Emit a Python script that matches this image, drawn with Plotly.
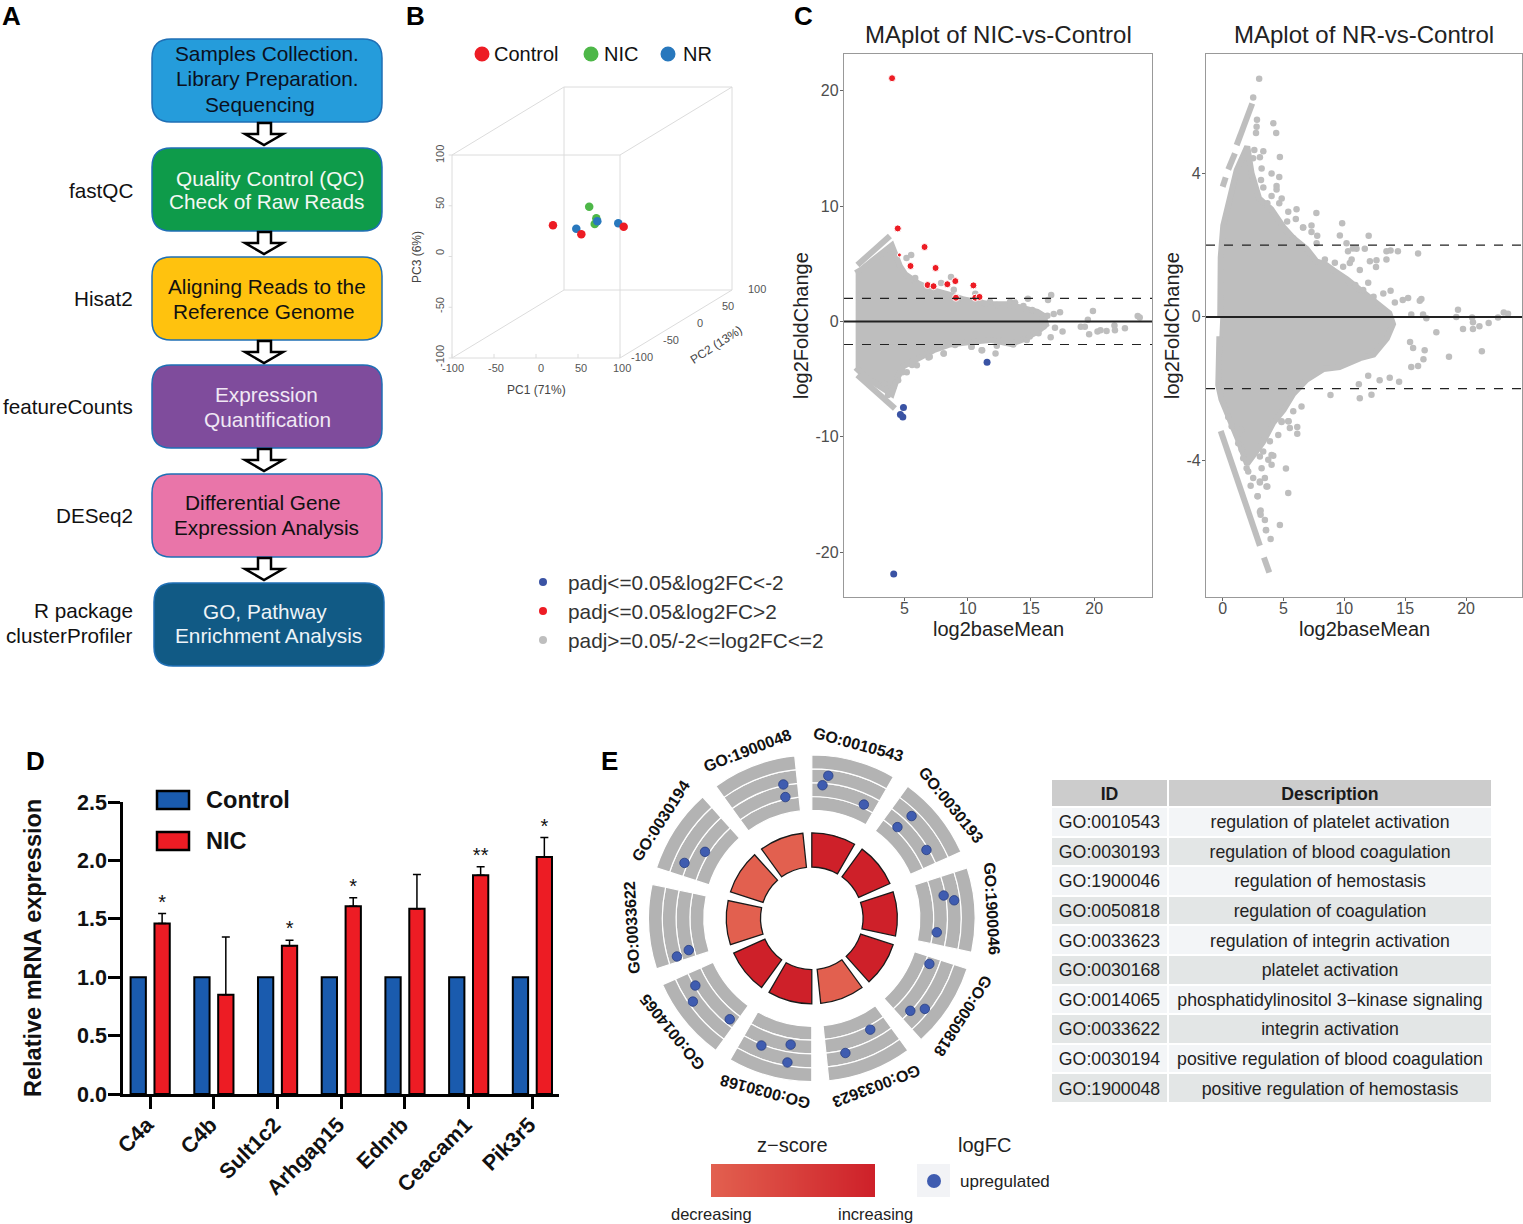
import math
import plotly.graph_objects as go

W, H = 1523, 1224
FONT = "Liberation Sans"

# ---------- Panel A text ----------
flow_boxes = [
    ("#259CDB", 152, 39, 382, 122), ("#0E9B4A", 152, 148, 382, 231), ("#FFC20E", 152, 257, 382, 340),
    ("#7F4C9C", 152, 365, 382, 448), ("#E975A9", 152, 474, 382, 557), ("#115A85", 154, 583, 384, 666),
]
flow_lines = [
    ("Samples Collection.", 267, 54, "#0b1020"), ("Library Preparation.", 267, 79, "#0b1020"), ("Sequencing", 260, 104, "#0b1020"),
    ("Quality Control (QC)", 270, 178, "#f4f8f4"), ("Check of Raw Reads", 266, 202, "#f4f8f4"),
    ("Aligning Reads to the", 267, 286, "#111111"), ("Reference Genome", 264, 311, "#111111"),
    ("Expression", 266, 395, "#f0e8f4"), ("Quantification", 267, 419, "#f0e8f4"),
    ("Differential Gene", 263, 502, "#111111"), ("Expression Analysis", 266, 527, "#111111"),
    ("GO, Pathway", 265, 611, "#eef4f8"), ("Enrichment Analysis", 268, 635, "#eef4f8"),
]
arrow_tops = [123, 232, 341, 449, 558]
tool_labels = [("fastQC", 190), ("Hisat2", 298), ("featureCounts", 407), ("DESeq2", 515), ("R package", 610), ("clusterProfiler", 635)]

# ---------- Panel B data ----------
pca_groups = ["Control", "NIC", "NR"]
pc1_control, pc2_control, pc3_control = [-39.8, 7.3, 77.7], [-10, -30, -60], [0.6, -1.6, 16]
pc1_nic, pc2_nic, pc3_nic = [10, 18.5, 19.9], [-20, -20, -25], [22.3, 10.8, 6.9]
pc1_nr, pc2_nr, pc3_nr = [1.3, 23, 64.6], [-30, -25, -50], [3.9, 9.6, 16]
pca_ticks = [-100, -50, 0, 50, 100]

# ---------- Panel C data ----------
nic_env_x = [1.14, 1.6, 2.5, 3.2, 4.0, 4.64, 5.05, 6.1, 7.3, 8.6, 9.7, 10.7, 11.8, 13.1, 14.2, 15.5, 16, 16.2, 15.5, 14.4, 13.4, 11.8, 10.5, 8.6, 7.3, 6, 4.9, 4.4, 4.0, 3, 2, 1.14]
nic_env_y = [4.2, 4.5, 5.3, 5.9, 6.6, 4.8, 4.1, 3.3, 2.7, 2.3, 1.9, 1.7, 1.5, 1.5, 1.2, 0.85, 0.5, -0.27, -0.9, -1.55, -1.95, -1.6, -1.75, -2.0, -2.5, -3.3, -3.9, -5.0, -6.3, -5.6, -4.9, -4.0]
nic_streak_up_x, nic_streak_up_y = [1.28, 3.85], [4.9, 7.42]
nic_streak_dn_x, nic_streak_dn_y = [1.28, 4.25], [-4.64, -7.54]
nic_grey_x = [16.6, 16.35, 14.76, 19.9, 17.3, 16.8, 16.3, 23.44, 23.6, 19.5, 18.94, 19.26, 19.6, 20.26, 20.5, 20.98, 21.6, 21.64, 22.43, 17.5, 16.9, 16.56, 11.14, 12.2, 8.9, 8.68, 7.9, 10.6, 5.53, 5.16, 5.85, 8.1, 6.9, 5.98, 5.18, 4.5, 10.3]
nic_grey_y = [2.3, 1.86, 1.96, 0.9, 0.8, 0.65, 0.5, 0.48, 0.34, 0.14, -0.45, -0.45, -1.1, -0.86, -0.76, -0.82, -0.34, -0.76, -0.58, -0.86, -0.55, -1.37, -2.5, -2.78, 2.75, 3.85, 3.33, 2.4, 5.77, 5.5, 3.78, -2.78, -3.13, -3.8, -4.4, -5.1, -2.2]
nic_edge_x = [11.76, 12.3, 13.35, 13.75, 14.4, 15.1, 15.9, 16.0, 15.6, 14.67, 14.9, 13.6, 12.8, 12.3, 11.1, 10.3, 9.0, 8.1, 7.0, 5.6, 4.85, 3.7, 4.15, 3.4]
nic_edge_y = [1.72, 1.43, 1.72, 1.64, 1.34, 0.99, 0.13, -0.44, -1.03, -1.6, -1.3, -2.0, -1.6, -2.1, -2.5, -2.2, -2.05, -2.78, -3.05, -3.78, -4.4, -6.38, -5.65, -5.37]
nic_up_x = [4.02, 4.47, 4.6, 6.59, 5.48, 7.46, 6.83, 7.3, 8.39, 9.02, 10.45, 9.07, 10.6, 10.93]
nic_up_y = [21.1, 8.07, 5.77, 6.46, 4.81, 4.64, 3.16, 3.06, 3.23, 3.5, 3.13, 2.06, 2.06, 2.13]
nic_dn_x = [11.53, 4.92, 4.68, 4.87, 4.15]
nic_dn_y = [-3.54, -7.46, -8.08, -8.28, -21.9]

nr_env_x = [-0.2, -0.16, 0.05, 0.47, 1.15, 2.02, 2.38, 3.0, 4.0, 4.3, 5, 5.8, 6.9, 7.7, 8.5, 9.1, 10.2, 11.5, 12.6, 13.7, 14, 13.5, 12.4, 11.3, 9.6, 8.3, 6.9, 5.8, 5.0, 4.16, 3.3, 2.5, 2.0, 1.3, 0.46, -0.1, -0.36, -0.27]
nr_env_y = [0, 1.66, 2.55, 3.2, 4.09, 4.75, 4.0, 3.3, 3.0, 2.85, 2.5, 2.2, 1.9, 1.55, 1.45, 1.3, 1.05, 0.7, 0.4, 0.1, -0.2, -0.6, -1.05, -1.15, -1.4, -1.45, -1.75, -2.15, -2.6, -2.95, -3.5, -3.9, -4.1, -3.45, -2.75, -2.3, -1.9, -0.54]
nr_streak_up_x, nr_streak_up_y = [0, 0.25], [3.63, 3.89]
nr_streak_up2_x, nr_streak_up2_y = [0.46, 1.01], [4.11, 4.56]
nr_streak_up3_x, nr_streak_up3_y = [1.15, 2.43], [4.79, 5.95]
nr_streak_dn_x, nr_streak_dn_y = [-0.16, 3.06], [-3.18, -6.38]
nr_streak_dn2_x, nr_streak_dn2_y = [3.39, 3.83], [-6.71, -7.13]
nr_grey_x = [3.0, 2.51, 2.82, 2.79, 2.74, 4.16, 4.4, 4.7, 3.34, 4.02, 4.65, 4.02, 4.43, 7.7, 6.07, 6.6, 7.3, 9.82, 9.63, 12, 10.18, 10.3, 11, 11.68, 10.6, 13.46, 13.8, 14.4, 16.06, 12.1, 12.64, 12.6, 13.46, 11.27, 11.96, 13.2, 13.8, 14.15, 14.8, 15.24, 16.2, 16.33, 16.47, 16.74, 15.5, 17.56, 19.34, 19.2, 20.5, 20.57, 19.75, 20.57, 21.1, 21.86, 22.63, 23.1, 23.45, 21.3, 18.6, 16.6, 16.5, 15.4, 15.65, 15.5, 16.06, 14.5, 13.73, 12.9, 11.96, 12.23, 11.27, 11.19, 8.86, 6.48, 5.8, 6.13, 5.39, 4.84, 5.2, 5.39, 4.7, 3.94, 3.47, 3.56, 3.06, 2.87, 3.6, 3.06, 4.02]
nr_grey_y = [6.64, 6.12, 5.5, 5.3, 5.13, 5.4, 5.13, 4.46, 4.62, 4.0, 3.9, 3.37, 3.65, 2.9, 3.0, 2.49, 2.55, 2.61, 2.27, 2.26, 2.05, 1.83, 1.9, 1.9, 1.6, 1.83, 1.85, 1.83, 1.77, 1.55, 1.58, 1.39, 1.6, 1.31, 0.95, 0.65, 0.73, 0.4, 0.47, 0.53, 0.45, 0.5, 0.07, -0.04, 0.07, -0.43, 0.2, 0, -0.02, -0.15, -0.34, -0.34, -0.26, -0.17, -0.02, 0.12, 0.09, -0.96, -1.11, -0.93, -1.18, -0.7, -0.87, -1.4, -1.37, -1.81, -1.7, -1.77, -1.64, -2.17, -2.27, -1.88, -2.18, -2.5, -2.63, -3.07, -2.91, -2.93, -4.23, -4.91, -5.8, -6.19, -5.66, -5.94, -5.44, -5.0, -4.73, -4.62, -3.85]
nr_edge_x = [0.46, 0.74, 1.56, 1.28, 1.56, 1.69, 1.97, 2.1, 2.51, 2.3, 3.06, 3.47, 3.67, 3.2, 4.02, 3.75, 4.16, 3.33, 3.06, 3.88, 4.57, 2.87, 6.13, 5.52, 5.42, 4.84, 3.12, 3.12, 3.56, 2.6, 2.5, 3.06, 3.2, 3.15, 3.34, 4.43, 4.85, 4.65, 3.67, 5.39, 6.01, 5.3, 6.62, 7.3, 7.77, 5.8, 7.72, 8.4, 9.22, 9.9, 10.45, 10.7, 10.45, 11.55, 12.4, 10.9]
nr_edge_y = [-2.79, -3.05, -3.15, -3.52, -3.7, -3.94, -4.22, -4.31, -4.49, -4.71, -4.59, -4.49, -4.73, -4.22, -4.12, -3.98, -3.87, -3.75, -3.89, -3.47, -3.29, -5.0, -3.26, -3.1, -2.91, -2.91, -5.4, -5.52, -5.95, 4.65, 4.42, 4.45, 4.14, 3.82, 3.61, 3.55, 3.3, 3.17, 3.17, 2.93, 2.73, 2.66, 2.49, 2.37, 2.26, 2.19, 2.05, 1.6, 1.51, 1.4, 1.5, 1.91, 0.94, 0.75, 0.56, 0.89]
ma_legend = [("padj<=0.05&log2FC<-2", "#3A53A4", 582), ("padj<=0.05&log2FC>2", "#ED1C24", 611), ("padj>=0.05/-2<=log2FC<=2", "#BEBEBE", 640)]

# ---------- Panel D data ----------
genes = ["C4a", "C4b", "Sult1c2", "Arhgap15", "Ednrb", "Ceacam1", "Pik3r5"]
control_vals = [1, 1, 1, 1, 1, 1, 1]
nic_vals = [1.46, 0.85, 1.27, 1.607, 1.587, 1.873, 2.03]
nic_err = [0.085, 0.495, 0.046, 0.073, 0.293, 0.072, 0.167]
stars = ["*", "", "*", "*", "", "**", "*"]
star_y = [1.63, 0, 1.40, 1.76, 0, 2.03, 2.28]

# ---------- Panel E data ----------
go_ids = ["GO:0010543", "GO:0030193", "GO:1900046", "GO:0050818", "GO:0033623", "GO:0030168", "GO:0014065", "GO:0033622", "GO:0030194", "GO:1900048"]
go_desc = ["regulation of platelet activation", "regulation of blood coagulation", "regulation of hemostasis", "regulation of coagulation",
           "regulation of integrin activation", "platelet activation", "phosphatidylinositol 3\u2212kinase signaling", "integrin activation",
           "positive regulation of blood coagulation", "positive regulation of hemostasis"]
zscore = [1, 1, 1, 1, 0, 1, 1, 0, 0, 0]
sector_theta = [15, 51, 87, 123, 159, 195, 231, 267, 303, 339]
dot_theta = [6.6, 4.6, 24.6, 44.3, 43.2, 59.2, 80.2, 82.8, 96.4, 111.2, 133.2, 128.7, 152.3, 166, 189.5, 189.6, 201.6, 219.1, 235, 240, 255.5, 254.2, 301.9, 293.5, 347.7, 348]
dot_radius = [428, 398, 373, 426, 373, 398, 399, 428, 375, 376, 403, 432, 375, 414, 382, 436, 408, 388, 433, 401, 379, 418, 375, 414, 370, 408]
ring_bases = [322, 363.25, 404.5, 445.75]
zscale_levels = [0, 0.09, 0.18, 0.27, 0.36, 0.45, 0.55, 0.64, 0.73, 0.82, 0.91, 1]
ZSCALE = [[0, "#E2604F"], [1, "#CE2029"]]


def px(x):
    return x / W


def py(y):
    return 1 - y / H


def dom_x(a, b):
    return [px(a), px(b)]


def dom_y(top, bottom):
    return [py(bottom), py(top)]


anns, shapes = [], []


def ann(text, x, y, size, color="#111111", bold=False, anchor="center", angle=0):
    t = f"<b>{text}</b>" if bold else text
    anns.append(dict(text=t, x=px(x), y=py(y), xref="paper", yref="paper", showarrow=False, xanchor=anchor, yanchor="middle",
                     textangle=angle, font=dict(family=FONT, size=size, color=color)))


def rrect(x0, y0, x1, y1, r):
    X0, X1, Y0, Y1 = px(x0), px(x1), py(y0), py(y1)
    a, b = px(r), r / H
    return (f"M {X0+a},{Y0} L {X1-a},{Y0} Q {X1},{Y0} {X1},{Y0-b} L {X1},{Y1+b} Q {X1},{Y1} {X1-a},{Y1} "
            f"L {X0+a},{Y1} Q {X0},{Y1} {X0},{Y1+b} L {X0},{Y0-b} Q {X0},{Y0} {X0+a},{Y0} Z")


def circle(cx, cy, d, color):
    shapes.append(dict(type="circle", xref="paper", yref="paper", x0=px(cx - d / 2), x1=px(cx + d / 2), y0=py(cy + d / 2), y1=py(cy - d / 2),
                       fillcolor=color, line=dict(width=0)))


def rect(x0, y0, x1, y1, fill, line=None, lw=0):
    shapes.append(dict(type="rect", xref="paper", yref="paper", x0=px(x0), x1=px(x1), y0=py(y1), y1=py(y0), fillcolor=fill,
                       line=dict(width=lw, color=line or fill)))


fig = go.Figure()

# Panel letters
for letter, x, y in [("A", 12, 16), ("B", 415, 16), ("C", 803, 16), ("D", 35, 761), ("E", 609, 761)]:
    ann(letter, x, y, 26, "#000000", True)

# Panel A
for color, x0, y0, x1, y1 in flow_boxes:
    shapes.append(dict(type="path", xref="paper", yref="paper", path=rrect(x0, y0, x1, y1, 19), fillcolor=color, line=dict(color="#1F6FB5", width=1.5)))
for text, x, y, c in flow_lines:
    ann(text, x, y, 20.8, c)
for t in arrow_tops:
    pts = [(258, t), (271, t), (271, t + 11), (283, t + 11), (264, t + 22), (245, t + 11), (258, t + 11)]
    path = "M " + " L ".join(f"{px(a)},{py(b)}" for a, b in pts) + " Z"
    shapes.append(dict(type="path", xref="paper", yref="paper", path=path, fillcolor="#ffffff", line=dict(color="#000000", width=2.5)))
for text, y in tool_labels:
    ann(text, 135, y, 20.7, "#111111", anchor="right")

# Panel B: oblique projection of the three components
SX, SY = 0.84, 1.015
KU, KV = 0.56 / SX, 0.34 / SY
B_L, B_R, B_T, B_B = 440, 745, 80, 365


def proj_u(p1, p2):
    return [a + KU * (b + 100) for a, b in zip(p1, p2)]


def proj_v(p3, p2):
    return [a + KV * (b + 100) for a, b in zip(p3, p2)]


edges = [((-100, -100, -100), (100, -100, -100)), ((100, -100, -100), (100, -100, 100)), ((100, -100, 100), (-100, -100, 100)), ((-100, -100, 100), (-100, -100, -100)),
         ((-100, 100, -100), (100, 100, -100)), ((100, 100, -100), (100, 100, 100)), ((100, 100, 100), (-100, 100, 100)), ((-100, 100, 100), (-100, 100, -100)),
         ((-100, -100, -100), (-100, 100, -100)), ((100, -100, -100), (100, 100, -100)), ((100, -100, 100), (100, 100, 100)), ((-100, -100, 100), (-100, 100, 100))]
for tk in pca_ticks:
    edges.append(((tk, -100, -100), (tk, -100, -96)))
    edges.append(((-100, -100, tk), (-104, -100, tk)))
ex, ey = [], []
for a, b in edges:
    ex += proj_u([a[0], b[0]], [a[1], b[1]]) + [None]
    ey += proj_v([a[2], b[2]], [a[1], b[1]]) + [None]
fig.add_trace(go.Scatter(x=ex, y=ey, mode="lines", line=dict(color="#DCDCDC", width=1), xaxis="x2", yaxis="y2", showlegend=False, hoverinfo="skip"))
for p1, p2, p3, col in [(pc1_nic, pc2_nic, pc3_nic, "#4DB748"), (pc1_nr, pc2_nr, pc3_nr, "#2878BD"), (pc1_control, pc2_control, pc3_control, "#ED1C24")]:
    fig.add_trace(go.Scatter(x=proj_u(p1, p2), y=proj_v(p3, p2), mode="markers", marker=dict(color=col, size=8.5), xaxis="x2", yaxis="y2", showlegend=False))
for name, col, kx, tx in zip(pca_groups, ["#ED1C24", "#4DB748", "#2878BD"], [482, 591, 668], [492, 602, 681]):
    circle(kx, 54, 15, col)
    ann(name, tx, 54, 20, "#111111", anchor="left")
for lab, x in zip(pca_ticks, [453, 496, 541, 581, 622]):
    ann(str(lab), x, 368, 11, "#555555")
for lab, x, y in zip(pca_ticks, [642, 671, 700, 728, 757], [357, 340, 323, 306, 289]):
    ann(str(lab), x, y, 11, "#555555")
for lab, y in zip(pca_ticks, [356, 305, 252, 203, 154]):
    ann(str(lab), 440, y, 11, "#555555", angle=-90)
ann("PC1 (71%)", 536, 390, 12, "#444444")
ann("PC2 (13%)", 716, 345, 12, "#444444", angle=-33)
ann("PC3 (6%)", 417, 257, 12, "#444444", angle=-90)

# Panel C
GREY = "#BEBEBE"


def ma_panel(xa, ya, env_x, env_y, streaks, gx, gy):
    fig.add_trace(go.Scatter(x=env_x, y=env_y, mode="lines", fill="toself", fillcolor=GREY, line=dict(color=GREY, width=6), xaxis=xa, yaxis=ya, showlegend=False, hoverinfo="skip"))
    for sx, sy in streaks:
        fig.add_trace(go.Scatter(x=sx, y=sy, mode="lines", line=dict(color=GREY, width=6), xaxis=xa, yaxis=ya, showlegend=False, hoverinfo="skip"))
    fig.add_trace(go.Scatter(x=gx, y=gy, mode="markers", marker=dict(color=GREY, size=6.5), xaxis=xa, yaxis=ya, showlegend=False))
    for val, dash, lw in [(2, "dash", 1.2), (-2, "dash", 1.2), (0, "solid", 2)]:
        shapes.append(dict(type="line", xref=f"{xa} domain", yref=ya, x0=0, x1=1, y0=val, y1=val, line=dict(color="#222222", width=lw, dash=dash)))


ma_panel("x3", "y3", nic_env_x, nic_env_y, [(nic_streak_up_x, nic_streak_up_y), (nic_streak_dn_x, nic_streak_dn_y)], nic_grey_x + nic_edge_x, nic_grey_y + nic_edge_y)
fig.add_trace(go.Scatter(x=nic_up_x, y=nic_up_y, mode="markers", marker=dict(color="#ED1C24", opacity=1, size=[7, 7, 4] + [7] * 11), xaxis="x3", yaxis="y3", showlegend=False))
fig.add_trace(go.Scatter(x=nic_dn_x, y=nic_dn_y, mode="markers", marker=dict(color="#3A53A4", size=7), xaxis="x3", yaxis="y3", showlegend=False))
ma_panel("x4", "y4", nr_env_x, nr_env_y,
         [(nr_streak_up_x, nr_streak_up_y), (nr_streak_up2_x, nr_streak_up2_y), (nr_streak_up3_x, nr_streak_up3_y), (nr_streak_dn_x, nr_streak_dn_y), (nr_streak_dn2_x, nr_streak_dn2_y)],
         nr_grey_x + nr_edge_x, nr_grey_y + nr_edge_y)

ann("MAplot of NIC-vs-Control", 998, 34, 24, "#222222")
ann("MAplot of NR-vs-Control", 1364, 34, 24, "#222222")
ann("log2baseMean", 999, 629, 20, "#222222")
ann("log2baseMean", 1364, 629, 20, "#222222")
ann("log2FoldChange", 801, 326, 20, "#222222", angle=-90)
ann("log2FoldChange", 1172, 326, 20, "#222222", angle=-90)
for text, col, y in ma_legend:
    circle(543, y, 8, col)
    ann(text, 566, y, 20.8, "#333333", anchor="left")

# Panel D
BLUE_BAR, RED_BAR = "#1A5BAE", "#ED1C24"
gene_pos = list(range(len(genes)))
fig.add_trace(go.Bar(x=[g - 0.185 for g in gene_pos], y=control_vals, width=0.24, marker=dict(color=BLUE_BAR, line=dict(color="#000000", width=2)), showlegend=False))
fig.add_trace(go.Bar(x=[g + 0.19 for g in gene_pos], y=nic_vals, width=0.24, marker=dict(color=RED_BAR, line=dict(color="#000000", width=2)),
                     error_y=dict(type="data", array=nic_err, arrayminus=[0] * 7, symmetric=False, color="#000000", thickness=1.5, width=4), showlegend=False))
fig.add_trace(go.Scatter(x=[g + 0.19 for g in gene_pos], y=star_y, text=stars, mode="text", textfont=dict(family=FONT, size=20, color="#111111"), cliponaxis=False, showlegend=False))
for name, col, y0, y1 in [("Control", BLUE_BAR, 791, 809), ("NIC", RED_BAR, 832, 850)]:
    rect(157, y0, 189, y1, col, "#000000", 2.5)
    ann(name, 204, (y0 + y1) / 2, 23.6, "#111111", True, "left")
ann("Relative mRNA expression", 33, 948, 23.5, "#111111", True, angle=-90)

# Panel E
CX, CY, R = 811.8, 918.3, 166
band_w = ring_bases[1] - ring_bases[0]
for base in ring_bases:
    fig.add_trace(go.Barpolar(theta=sector_theta, r=[band_w] * 10, base=[base] * 10, width=[30] * 10,
                              marker=dict(color="#B3B3B3", line=dict(color="#ffffff", width=1.2)), subplot="polar", showlegend=False))
fig.add_trace(go.Barpolar(theta=sector_theta, r=[102] * 10, base=[153] * 10, width=[30] * 10,
                          marker=dict(color=zscore, colorscale=ZSCALE, cmin=0, cmax=1, line=dict(color="#1a1a1a", width=1.3)), subplot="polar", showlegend=False))
fig.add_trace(go.Scatterpolar(theta=dot_theta, r=dot_radius, mode="markers", marker=dict(color="#3F5CB0", size=9.5, line=dict(color="#2a3f80", width=0.8)), subplot="polar", showlegend=False))

for gid, th in zip(go_ids, sector_theta):
    r = 180
    ann(gid, CX + r * math.sin(math.radians(th)), CY - r * math.cos(math.radians(th)), 16, "#111111", True, angle=th)

fig.add_trace(go.Heatmap(z=[zscale_levels], colorscale=ZSCALE, zmin=0, zmax=1, zsmooth="best", showscale=False, xaxis="x5", yaxis="y5", hoverinfo="skip"))
ann("z\u2212score", 793, 1145, 20, "#222222")
ann("logFC", 984, 1145, 20, "#222222")
ann("decreasing", 711, 1214, 16.5, "#222222")
ann("increasing", 875, 1214, 16.5, "#222222")
rect(917, 1164, 950, 1197, "#F2F3F6")
circle(934, 1181, 14, "#3F5CB0")
ann("upregulated", 958, 1181, 17, "#222222", anchor="left")

row_fill = ["#F3F5F7" if i % 2 == 0 else "#E3E6E6" for i in range(10)]
fig.add_trace(go.Table(
    domain=dict(x=dom_x(1051, 1492), y=dom_y(779, 1106)),
    columnwidth=[117, 324],
    header=dict(values=["ID", "Description"], fill_color="#CCCCCC", line_color="#ffffff", line_width=2, height=28,
                font=dict(family=FONT, size=17.7, color="#1a1a1a", weight="bold"), align="center"),
    cells=dict(values=[go_ids, [d.replace(" ", "\u00a0") for d in go_desc]], fill_color=[row_fill, row_fill], line_color="#ffffff", line_width=2, height=29.6,
               font=dict(family=FONT, size=17.7, color="#222222"), align="center"),
))

ma_axis = dict(showline=True, mirror=True, linecolor="#999999", linewidth=1.3, ticks="outside", ticklen=3, tickcolor="#666666", showgrid=False, zeroline=False,
               tickfont=dict(family=FONT, size=16, color="#4D4D4D"))
hidden = dict(visible=False, showgrid=False, zeroline=False)
d_font = dict(family=FONT, size=21.5, color="#111111")
fig.update_layout(
    width=W, height=H, margin=dict(l=0, r=0, t=0, b=0, autoexpand=False), paper_bgcolor="#ffffff", plot_bgcolor="#ffffff", showlegend=False, barmode="overlay",
    font=dict(family=FONT), annotations=anns, shapes=shapes,
    xaxis=dict(domain=dom_x(123, 559), range=[-0.424, 6.42], anchor="y", tickvals=gene_pos, ticktext=[f"<b>{g}</b>" for g in genes], tickangle=-45, showline=True, linecolor="#000000", linewidth=2.5,
               ticks="outside", ticklen=12, tickwidth=2.5, tickcolor="#000000", showgrid=False, zeroline=False, tickfont=d_font, ticklabelstandoff=-5, ticklabelshift=-3),
    yaxis=dict(domain=dom_y(802, 1094), range=[0, 2.5], anchor="x", tickvals=[0, 0.5, 1, 1.5, 2, 2.5], ticktext=["<b>0.0</b>", "<b>0.5</b>", "<b>1.0</b>", "<b>1.5</b>", "<b>2.0</b>", "<b>2.5</b>"],
               showline=True, linecolor="#000000", linewidth=2.5, ticks="outside", ticklen=12, tickwidth=2.5, tickcolor="#000000", showgrid=False, zeroline=False, tickfont=d_font, ticklabelstandoff=-3),
    xaxis2=dict(domain=dom_x(B_L, B_R), range=[-100 + (B_L - 452) / SX, -100 + (B_R - 452) / SX], anchor="y2", **hidden),
    yaxis2=dict(domain=dom_y(B_T, B_B), range=[-100 + (358 - B_B) / SY, -100 + (358 - B_T) / SY], anchor="x2", **hidden),
    xaxis3=dict(domain=dom_x(844, 1152), range=[0.22, 24.57], anchor="y3", tickvals=[5, 10, 15, 20], ticktext=["5", "10", "15", "20"], ticklabelstandoff=-6, **ma_axis),
    yaxis3=dict(domain=dom_y(54, 597), range=[-23.9, 23.2], anchor="x3", tickvals=[-20, -10, 0, 10, 20], ticktext=["-20", "-10", "0", "10", "20"], ticklabelstandoff=-2, **ma_axis),
    xaxis4=dict(domain=dom_x(1206, 1522), range=[-1.37, 24.6], anchor="y4", tickvals=[0, 5, 10, 15, 20], ticktext=["0", "5", "10", "15", "20"], ticklabelstandoff=-6, **ma_axis),
    yaxis4=dict(domain=dom_y(54, 597), range=[-7.81, 7.33], anchor="x4", tickvals=[-4, 0, 4], ticktext=["-4", "0", "4"], ticklabelstandoff=-2, **ma_axis),
    xaxis5=dict(domain=dom_x(711, 875), range=[0, 11], anchor="y5", **hidden),
    yaxis5=dict(domain=dom_y(1164, 1197), range=[-0.5, 0.5], anchor="x5", **hidden),
    polar=dict(domain=dict(x=dom_x(CX - R, CX + R), y=dom_y(CY - R, CY + R)), bgcolor="rgba(0,0,0,0)",
               radialaxis=dict(visible=False, range=[0, 495]),
               angularaxis=dict(visible=False, rotation=90, direction="clockwise")),
)

fig.write_html("out.html", post_script="document.body.style.margin='0';", config={"displayModeBar": False})
